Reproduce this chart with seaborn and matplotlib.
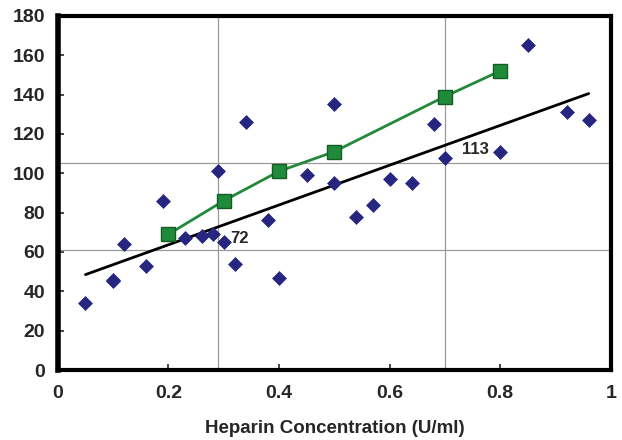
import numpy as np
import pandas as pd
import matplotlib
matplotlib.use("Agg")
import matplotlib.pyplot as plt
import seaborn as sns

# Scatter data (individual samples)
conc = [0.05, 0.10, 0.10, 0.12, 0.16, 0.19, 0.23, 0.26, 0.28, 0.29, 0.30, 0.32,
        0.34, 0.38, 0.40, 0.45, 0.50, 0.50, 0.54, 0.57, 0.60, 0.64, 0.68, 0.70,
        0.80, 0.85, 0.92, 0.96]
response = [34, 45, 46, 64, 53, 86, 67, 68, 69, 101, 65, 54,
            126, 76, 47, 99, 135, 95, 78, 84, 97, 95, 125, 108,
            111, 165, 131, 127]

# Mean curve (green squares)
mean_conc = [0.2, 0.3, 0.4, 0.5, 0.7, 0.8]
mean_resp = [69, 86, 101, 111, 139, 152]

# Trend line end points
trend_x = [0.05, 0.96]
trend_y = [48.5, 140.5]

# Reference cross-lines
vlines = [0.29, 0.70]
hlines = [61, 105]

sns.set_style("white")
plt.rcParams["font.family"] = ["Liberation Sans", "DejaVu Sans"]
plt.rcParams["font.weight"] = "bold"

fig = plt.figure(figsize=(6.22, 4.40), dpi=100)
ax = fig.add_axes([0.093, 0.159, 0.889, 0.805])

for v in vlines:
    ax.axvline(v, color="#9a9a9a", lw=0.9, zorder=1)
for h in hlines:
    ax.axhline(h, color="#9a9a9a", lw=0.9, zorder=1)

sns.lineplot(x=trend_x, y=trend_y, color="black", lw=2, ax=ax, zorder=2)
sns.scatterplot(x=conc, y=response, marker="D", s=50, color="#262680",
                edgecolor="#262680", linewidth=0.5, ax=ax, zorder=3)
sns.lineplot(x=mean_conc, y=mean_resp, color="#22883a", lw=2, marker="s",
             markersize=9.5, markerfacecolor="#1f8a3a", markeredgecolor="#145c24",
             markeredgewidth=1, ax=ax, zorder=4)

ax.text(0.312, 67, "72", fontsize=12, fontweight="bold", va="center", ha="left")
ax.text(0.731, 112, "113", fontsize=12, fontweight="bold", va="center", ha="left")

ax.set_xlim(0, 1)
ax.set_ylim(0, 180)
ax.set_xticks([0, 0.2, 0.4, 0.6, 0.8, 1])
ax.set_xticklabels(["0", "0.2", "0.4", "0.6", "0.8", "1"])
ax.set_yticks(np.arange(0, 181, 20))
ax.tick_params(axis="both", direction="in", length=4, width=1.2, labelsize=14,
               bottom=True, left=True)
ax.tick_params(axis="x", pad=11)
ax.tick_params(axis="y", pad=9)
for lab in ax.get_xticklabels() + ax.get_yticklabels():
    lab.set_fontweight("bold")
ax.set_xlabel("Heparin Concentration (U/ml)", fontsize=13.5, fontweight="bold",
              labelpad=13)
for sp in ax.spines.values():
    sp.set_visible(True)
    sp.set_color("black")
    sp.set_linewidth(3)
ax.spines["left"].set_linewidth(4)

fig.savefig("out.png", dpi=100)
